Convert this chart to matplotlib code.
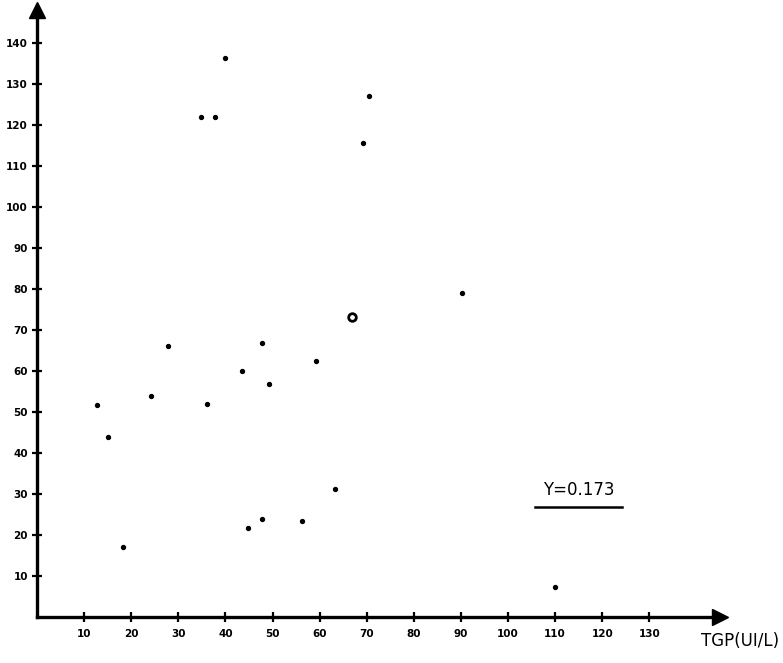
import matplotlib
matplotlib.use("Agg")
import matplotlib.pyplot as plt

# TGP (UI/L) on x, second enzyme on y
tgp = [39.8, 34.9, 37.8, 70.4, 69.1, 90.2, 59.2, 12.7, 15.1, 18.2,
       24.1, 27.7, 36.1, 43.5, 44.7, 47.8, 49.3, 63.3, 47.7, 56.3, 110.0]
other = [136.3, 122.0, 122.0, 127.0, 115.6, 79.0, 62.5, 51.7, 44.0, 17.0,
         54.0, 66.0, 52.0, 60.0, 21.7, 66.8, 56.7, 31.3, 23.8, 23.3, 7.4]

# the point drawn as a small ring (overlapping values)
ring_x = [66.8]
ring_y = [73.1]

x_ticks = list(range(10, 140, 10))
y_ticks = list(range(10, 150, 10))

r_text = "Y=0.173"
x_label = "TGP(UI/L)"

fig = plt.figure(figsize=(7.83, 6.63), dpi=100)
ax = fig.add_axes([0.0473, 0.0694, 0.8723, 0.9155])

ax.scatter(tgp, other, s=8, color="black", zorder=3)
ax.scatter(ring_x, ring_y, s=30, facecolor="white", edgecolor="black",
           linewidth=2.0, zorder=3)

ax.set_xlim(0, 145)
ax.set_ylim(0, 148)

# axes drawn like hand-inked arrows
for side in ["top", "right"]:
    ax.spines[side].set_visible(False)
for side in ["left", "bottom"]:
    ax.spines[side].set_linewidth(2.4)
ax.plot(1, 0, ">k", markersize=11, transform=ax.transAxes, clip_on=False)
ax.plot(0, 1, "^k", markersize=11, transform=ax.transAxes, clip_on=False)

ax.set_xticks(x_ticks)
ax.set_yticks(y_ticks)
ax.tick_params(direction="inout", length=7, width=1.6, labelsize=7.5)
for lbl in ax.get_xticklabels() + ax.get_yticklabels():
    lbl.set_fontweight("bold")
ax.tick_params(axis="x", pad=5)
ax.tick_params(axis="y", pad=3)

# correlation coefficient, underlined
ax.text(115, 31, r_text, ha="center", va="center", fontsize=12,
        family="DejaVu Sans")
ax.plot([105.7, 124.2], [26.8, 26.8], color="black", linewidth=1.8)

fig.text(0.995, 0.02, x_label, ha="right", va="bottom", fontsize=12,
         family="DejaVu Sans")

fig.savefig("out.png", dpi=100, facecolor="white")
